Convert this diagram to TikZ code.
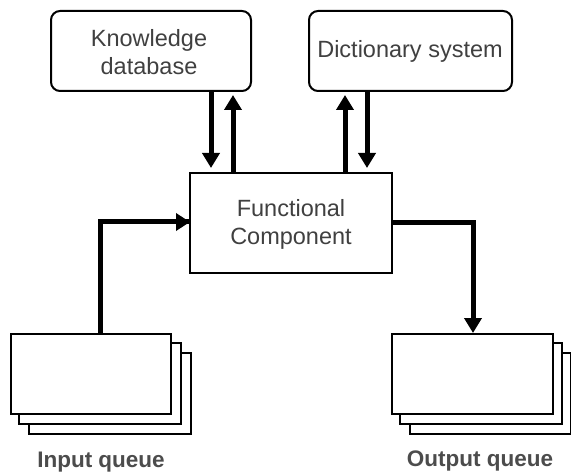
\documentclass[tikz,border=0pt]{standalone}
\usepackage{fontspec}
\setmainfont{Liberation Sans}
\usetikzlibrary{arrows.meta}
\begin{document}
\begin{tikzpicture}[x=1pt,y=-1pt,
  txt/.style={text=black!75, font=\fontsize{23.5}{28}\selectfont, align=center},
  rbox/.style={draw, line width=2pt, rounded corners=9pt, fill=white},
  sbox/.style={draw, line width=2pt, fill=white},
  flow/.style={line width=5pt, -{Triangle[width=17pt,length=15pt]}},
  link/.style={line width=5pt},
  doc/.style={draw, line width=2pt, fill=white},
  lbl/.style={text=black!70, font=\bfseries\fontsize{22.5}{26}\selectfont}]
\useasboundingbox (0,0) rectangle (571,476);
% top boxes
\draw[rbox] (51,11) rectangle (251,91);
\node[txt] (kd) at (149,52) {Knowledge\\database};
\draw[rbox] (309,11) rectangle (512,91);
\node[txt] (ds) at (410,51) {Dictionary system};
% functional component
\draw[sbox] (190,173) rectangle (392,273);
\node[txt] (fc) at (291,224) {Functional\\Component};
% arrows knowledge <-> functional
\coordinate (k1a) at (211,91);  \coordinate (k1b) at (211,168);
\coordinate (k2a) at (233,173); \coordinate (k2b) at (233,95);
\draw[flow] (k1a) -- (k1b);
\draw[flow] (k2a) -- (k2b);
% arrows dictionary <-> functional
\coordinate (d1a) at (345,173); \coordinate (d1b) at (345,95);
\coordinate (d2a) at (367,91);  \coordinate (d2b) at (367,168);
\draw[flow] (d1a) -- (d1b);
\draw[flow] (d2a) -- (d2b);
% input queue documents
\draw[doc] (29,353) rectangle (191,434);
\draw[doc] (19,343) rectangle (181,424);
\node[doc, minimum width=160pt, minimum height=80pt, anchor=north west] (inq) at (10,333) {};
\node[lbl] (inl) at (101,462) {Input queue};
% output queue documents
\draw[doc] (410,353) rectangle (571,434);
\draw[doc] (400,343) rectangle (562,424);
\node[doc, minimum width=161pt, minimum height=80pt, anchor=north west] (outq) at (391,333) {};
\node[lbl] (outl) at (480,461) {Output queue};
% input arrow
\coordinate (fin) at (190,222);
\draw[link] (inq.north -| 100,0) ++(0,1) |- (fin);
\draw[line width=4pt, -{Triangle[width=17pt,length=14pt]}] (150,222) -- (fin);
% output arrow
\coordinate (fout) at (392,223);
\draw[link, -{Triangle[width=17pt,length=15pt]}] (fout) -| (outq.north -| 473,0);
\end{tikzpicture}
\end{document}
